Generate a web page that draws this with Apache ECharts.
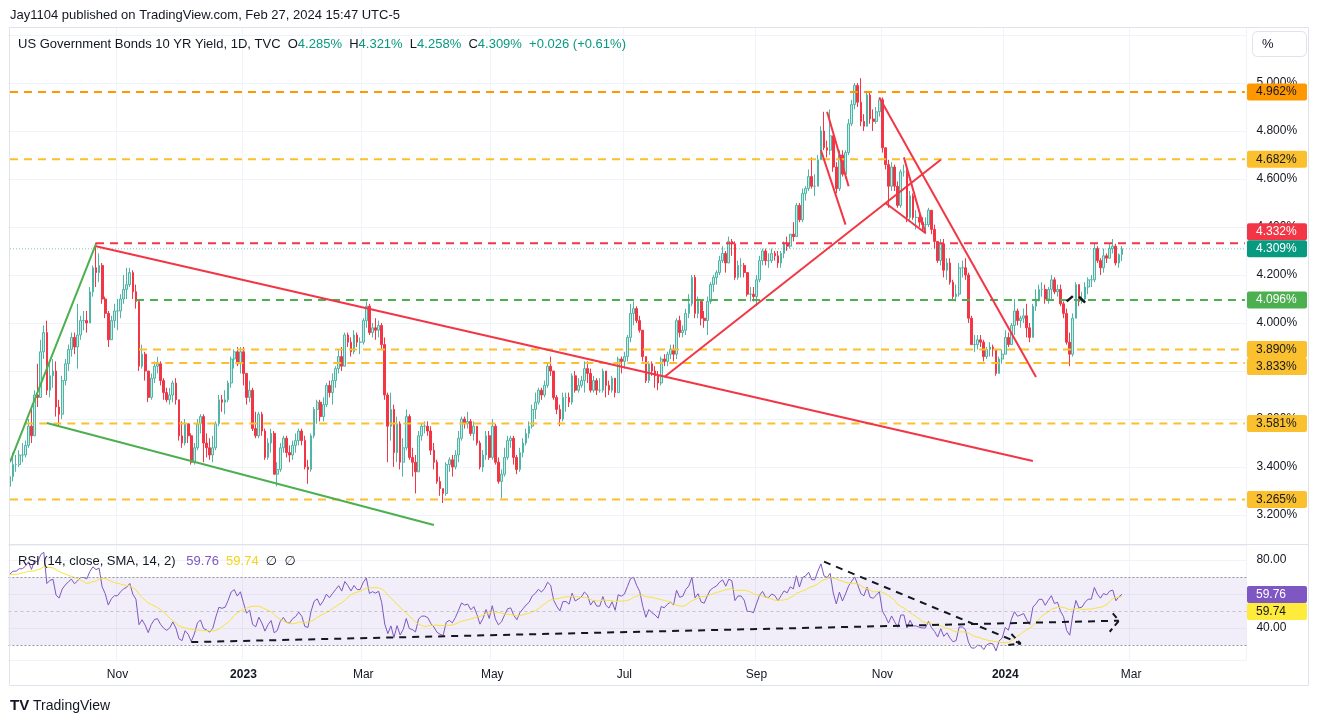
<!DOCTYPE html>
<html>
<head>
<meta charset="utf-8">
<title>US Government Bonds 10 YR Yield</title>
<script src="https://cdn.jsdelivr.net/npm/echarts/dist/echarts.min.js"></script>
<style>
html,body{margin:0;padding:0;background:#ffffff;}
#chart{width:1320px;height:723px;}
</style>
</head>
<body>
<div id="chart"></div>
<script>
// ================= DATA =================
// closes before the first visible candle (used only to warm up the RSI)
const warmupClose = [2.60,2.75,2.73,2.68,2.83,2.76,2.79,2.78,2.89,2.85,2.79,2.82,2.90,2.88,2.98,3.03,3.05,3.11,3.03,3.04,3.11,3.11,3.19,3.26,3.19,3.35,3.27,3.31,3.32];
const firstOpen = 3.32;

// daily closes, 2022-09-12 .. 2024-02-27 (one row per month)
const closeVals = [
3.36,3.41,3.41,3.45,3.45,3.49,3.57,3.53,3.70,3.69,3.88,3.96,3.72,3.78,3.80,
3.65,3.62,3.76,3.83,3.89,3.94,3.90,3.95,4.01,4.01,4.00,4.13,4.23,4.21,4.24,4.10,4.04,3.93,4.01,4.05,
4.05,4.10,4.14,4.16,4.21,4.13,4.09,3.82,3.87,3.80,3.69,3.77,3.82,3.83,3.76,3.71,3.68,3.70,3.75,3.68,
3.53,3.50,3.58,3.53,3.42,3.48,3.58,3.61,3.50,3.48,3.45,3.48,3.58,3.68,3.67,3.68,3.75,3.85,3.88,3.83,3.88,
3.79,3.69,3.72,3.56,3.53,3.62,3.55,3.44,3.50,3.54,3.37,3.39,3.48,3.52,3.46,3.45,3.49,3.51,3.55,3.51,
3.40,3.39,3.53,3.64,3.67,3.61,3.66,3.74,3.71,3.76,3.81,3.86,3.82,3.95,3.92,3.88,3.95,3.92,3.92,
4.01,4.07,3.96,3.98,3.97,3.99,3.91,3.70,3.57,3.64,3.46,3.58,3.42,3.48,3.61,3.44,3.42,3.38,3.53,3.57,3.57,3.55,3.47,
3.42,3.34,3.31,3.29,3.41,3.43,3.40,3.45,3.52,3.60,3.58,3.59,3.54,3.57,3.50,3.40,3.45,3.53,3.44,
3.57,3.42,3.34,3.37,3.44,3.51,3.52,3.44,3.39,3.46,3.50,3.54,3.57,3.64,3.67,3.72,3.70,3.74,3.82,3.80,3.69,3.64,
3.60,3.69,3.69,3.67,3.78,3.72,3.74,3.76,3.81,3.79,3.72,3.76,3.72,3.72,3.80,3.74,3.72,3.77,3.71,3.85,3.84,
3.86,3.94,4.04,4.06,4.01,3.97,3.86,3.76,3.83,3.80,3.78,3.75,3.85,3.84,3.87,3.89,3.87,4.01,3.96,3.97,
4.04,4.08,4.19,4.04,4.09,4.02,4.01,4.09,4.16,4.19,4.21,4.26,4.29,4.25,4.34,4.33,4.19,4.24,4.24,4.21,4.12,4.12,4.11,
4.18,4.26,4.30,4.26,4.26,4.29,4.28,4.25,4.29,4.33,4.32,4.37,4.36,4.49,4.43,4.54,4.56,4.61,4.57,4.57,
4.68,4.80,4.73,4.72,4.78,4.65,4.56,4.70,4.62,4.71,4.83,4.91,4.99,4.92,4.84,4.82,4.95,4.85,4.84,4.88,4.93,
4.73,4.66,4.57,4.65,4.57,4.49,4.63,4.63,4.44,4.53,4.44,4.44,4.42,4.41,4.41,4.47,4.39,4.34,4.26,4.33,
4.22,4.25,4.17,4.11,4.12,4.23,4.23,4.20,4.02,3.91,3.91,3.93,3.92,3.86,3.89,3.90,3.89,3.79,3.85,3.87,
3.94,3.91,3.99,4.05,4.01,4.02,4.03,3.98,3.94,4.07,4.10,4.14,4.14,4.10,4.14,4.18,4.13,4.14,4.08,4.04,3.92,
3.87,4.02,4.16,4.09,4.10,4.15,4.18,4.18,4.31,4.26,4.23,4.28,4.27,4.31,4.32,4.25,4.285,4.309
];
const highVals = [
3.42,3.46,3.45,3.47,3.50,3.51,3.60,3.64,3.72,3.83,3.93,3.99,4.01,3.83,3.85,
3.84,3.68,3.78,3.85,3.91,3.96,3.96,4.08,4.03,4.05,4.05,4.15,4.24,4.335,4.29,4.25,4.11,4.05,4.03,4.08,
4.10,4.12,4.20,4.23,4.23,4.22,4.16,4.10,3.91,3.88,3.80,3.79,3.84,3.86,3.84,3.77,3.73,3.73,3.76,3.77,
3.68,3.59,3.60,3.58,3.54,3.50,3.60,3.62,3.62,3.54,3.52,3.53,3.59,3.70,3.70,3.72,3.76,3.86,3.89,3.90,3.90,
3.90,3.79,3.76,3.73,3.63,3.63,3.63,3.56,3.52,3.56,3.55,3.42,3.50,3.53,3.53,3.49,3.51,3.54,3.56,3.56,
3.53,3.43,3.54,3.65,3.68,3.68,3.69,3.75,3.76,3.79,3.82,3.89,3.90,3.96,3.96,3.94,3.97,3.96,3.94,
4.02,4.09,4.08,4.00,4.02,4.01,4.00,3.94,3.71,3.71,3.66,3.61,3.59,3.52,3.64,3.62,3.48,3.45,3.55,3.58,3.59,3.59,3.57,
3.50,3.43,3.36,3.31,3.42,3.44,3.45,3.47,3.55,3.61,3.61,3.63,3.60,3.59,3.57,3.51,3.47,3.55,3.55,
3.60,3.58,3.44,3.39,3.48,3.53,3.53,3.53,3.45,3.48,3.52,3.56,3.59,3.66,3.71,3.73,3.73,3.76,3.83,3.86,3.79,3.70,
3.66,3.71,3.71,3.71,3.79,3.80,3.77,3.78,3.84,3.84,3.81,3.78,3.77,3.77,3.81,3.80,3.76,3.78,3.77,3.86,3.86,
3.88,3.95,4.08,4.09,4.07,4.03,3.97,3.86,3.84,3.84,3.82,3.80,3.86,3.87,3.88,3.91,3.91,4.02,4.03,3.99,
4.06,4.12,4.20,4.20,4.11,4.10,4.05,4.11,4.17,4.20,4.22,4.28,4.32,4.30,4.36,4.35,4.34,4.26,4.27,4.25,4.21,4.15,4.15,
4.20,4.28,4.31,4.31,4.29,4.31,4.30,4.30,4.30,4.34,4.36,4.37,4.42,4.50,4.50,4.56,4.57,4.64,4.69,4.62,
4.70,4.82,4.88,4.76,4.89,4.71,4.67,4.72,4.72,4.72,4.85,4.93,5.00,5.00,5.02,4.87,4.96,4.96,4.89,4.90,4.94,
4.94,4.73,4.68,4.67,4.66,4.59,4.64,4.66,4.64,4.55,4.54,4.47,4.47,4.44,4.44,4.48,4.47,4.41,4.34,4.35,
4.35,4.27,4.27,4.18,4.16,4.25,4.26,4.27,4.21,4.03,3.95,3.95,3.95,3.93,3.90,3.92,3.91,3.88,3.86,3.89,
3.97,3.96,4.00,4.10,4.06,4.03,4.06,4.08,4.00,4.08,4.14,4.16,4.17,4.16,4.15,4.20,4.19,4.16,4.16,4.09,4.06,
3.96,4.04,4.17,4.16,4.13,4.17,4.19,4.20,4.33,4.32,4.27,4.31,4.29,4.33,4.35,4.33,4.29,4.321
];
const lowVals = [
3.30,3.34,3.38,3.40,3.42,3.44,3.48,3.50,3.53,3.65,3.69,3.85,3.70,3.69,3.73,
3.61,3.57,3.60,3.74,3.80,3.86,3.87,3.81,3.93,3.97,3.96,4.00,4.11,4.15,4.17,4.08,4.02,3.90,3.93,3.98,
3.97,4.02,4.08,4.10,4.15,4.10,4.06,3.80,3.81,3.76,3.67,3.68,3.75,3.79,3.74,3.68,3.67,3.66,3.67,3.66,
3.51,3.48,3.49,3.50,3.41,3.41,3.47,3.54,3.42,3.44,3.43,3.42,3.47,3.57,3.63,3.62,3.67,3.73,3.81,3.82,3.79,
3.74,3.66,3.67,3.55,3.52,3.52,3.53,3.43,3.43,3.46,3.37,3.32,3.38,3.46,3.44,3.42,3.43,3.46,3.49,3.49,
3.39,3.33,3.38,3.52,3.58,3.59,3.59,3.65,3.69,3.66,3.73,3.79,3.80,3.83,3.90,3.86,3.87,3.90,3.87,
3.91,3.98,3.95,3.94,3.93,3.94,3.89,3.68,3.42,3.51,3.40,3.42,3.39,3.36,3.47,3.43,3.36,3.29,3.38,3.51,3.54,3.53,3.45,
3.39,3.33,3.28,3.25,3.28,3.38,3.36,3.39,3.42,3.51,3.56,3.56,3.53,3.51,3.49,3.39,3.38,3.43,3.43,
3.43,3.41,3.33,3.27,3.36,3.43,3.48,3.41,3.37,3.38,3.44,3.49,3.52,3.56,3.60,3.66,3.68,3.69,3.73,3.78,3.68,3.62,
3.57,3.59,3.63,3.65,3.66,3.71,3.71,3.73,3.71,3.75,3.71,3.71,3.70,3.71,3.71,3.69,3.70,3.71,3.69,3.71,3.79,
3.81,3.84,3.92,3.99,4.00,3.96,3.84,3.75,3.75,3.78,3.73,3.72,3.74,3.82,3.82,3.85,3.84,3.85,3.94,3.94,
3.95,4.02,4.07,4.02,4.02,3.99,3.98,3.95,4.08,4.13,4.16,4.20,4.25,4.21,4.25,4.28,4.18,4.18,4.19,4.19,4.11,4.09,4.09,
4.07,4.17,4.24,4.24,4.23,4.25,4.26,4.23,4.23,4.27,4.30,4.31,4.34,4.36,4.42,4.42,4.51,4.55,4.56,4.53,
4.57,4.68,4.72,4.69,4.70,4.63,4.54,4.55,4.61,4.60,4.70,4.82,4.89,4.90,4.82,4.80,4.82,4.83,4.80,4.83,4.86,
4.71,4.64,4.48,4.55,4.55,4.48,4.48,4.61,4.42,4.43,4.43,4.39,4.40,4.38,4.37,4.40,4.37,4.31,4.25,4.24,
4.19,4.18,4.16,4.10,4.09,4.11,4.19,4.18,4.00,3.91,3.88,3.89,3.90,3.84,3.85,3.86,3.86,3.78,3.79,3.83,
3.87,3.90,3.91,3.95,3.99,3.98,4.00,3.94,3.92,3.94,4.05,4.09,4.11,4.08,4.08,4.10,4.12,4.11,4.07,4.02,3.91,
3.82,3.86,4.03,4.07,4.08,4.09,4.12,4.15,4.17,4.25,4.20,4.21,4.25,4.27,4.29,4.24,4.23,4.258
];

// trading calendar
const startDate = '2022-09-12';
const holidays = ['2022-10-10','2022-11-11','2022-11-24','2022-12-26','2023-01-02','2023-01-16','2023-02-20','2023-04-07','2023-05-29','2023-06-19','2023-07-04','2023-09-04','2023-10-09','2023-11-10','2023-11-23','2023-12-25','2024-01-01','2024-01-15','2024-02-19','2024-03-29'];
const futureBars = 40;
const tickMonths = [0, 2, 4, 6, 8, 10];
const monthNames = ['Jan','Feb','Mar','Apr','May','Jun','Jul','Aug','Sep','Oct','Nov','Dec'];

// horizontal levels
const levelValues = [4.962, 4.682, 4.332, 4.096, 3.890, 3.833, 3.581, 3.265];
const levelStartDates = ['2022-09-12','2022-09-12','2022-10-21','2022-11-09','2022-11-10','2022-11-17','2022-09-19','2022-09-12'];
const currentPrice = 4.309;
const hiddenPriceTicks = [5.2]; // tick under the "%" scale button

// drawn trend lines: [fromDate, fromValue, toDate, toValue]
const trendLines = [
  ['2022-09-12', 3.42, '2022-10-21', 4.33],
  ['2022-09-28', 3.583, '2023-04-03', 3.158],
  ['2022-10-21', 4.32, '2024-01-16', 3.425],
  ['2023-07-21', 3.775, '2023-11-30', 4.68],
  ['2023-10-31', 4.94, '2024-01-17', 3.775],
  ['2023-11-02', 4.50, '2023-11-22', 4.375],
  ['2023-11-13', 4.69, '2023-11-22', 4.375],
  ['2023-10-05', 4.88, '2023-10-17', 4.57],
  ['2023-10-03', 4.72, '2023-10-16', 4.41]
];
const blackMarks = [
  ['2024-01-31', 4.09, '2024-02-02', 4.112],
  ['2024-02-06', 4.11, '2024-02-08', 4.085]
];
// RSI pane drawings
const rsiTrendLines = [
  ['2022-12-07', 31.7, '2024-02-26', 44.3],
  ['2023-10-04', 79.0, '2024-01-09', 30.8]
];
const rsiArrowHeads = [
  [['2024-01-03', 30.0], ['2024-01-09', 30.8], ['2024-01-04', 36.5]],
  [['2024-02-22', 48.6], ['2024-02-26', 44.3], ['2024-02-21', 37.8]]
];
const rsiLength = 14, rsiSmaLength = 14;
const rsiLegendValues = ['59.76', '59.74'];
const headerTitle = 'US Government Bonds 10 YR Yield, 1D, TVC';
const headerOHLC = ['4.285%', '4.321%', '4.258%', '4.309%'];
const headerChange = '+0.026 (+0.61%)';
const publishLine = 'Jay1104 published on TradingView.com, Feb 27, 2024 15:47 UTC-5';

// ================= STYLE / LAYOUT =================
const FONT = "'Liberation Sans', 'DejaVu Sans', Arial, sans-serif";
const TXT = '#131722';
const UP_FILL = '#cdebe6', UP_LINE = '#4fb5a6', DOWN = '#F23645';
const levelColors = ['#FF9800', '#FBC02D', '#F23645', '#4CAF50', '#FBC02D', '#FBC02D', '#FBC02D', '#FBC02D'];
const levelTextColors = [TXT, TXT, '#ffffff', '#ffffff', TXT, TXT, TXT, TXT];
const trendColors = ['#4CAF50', '#4CAF50', '#F23645', '#F23645', '#F23645', '#F23645', '#F23645', '#F23645', '#F23645'];
const GRID_LEFT = 8.46, GRID_RIGHT = 73.6;
const MAIN_TOP = 27, MAIN_BOTTOM = 544, RSI_TOP = 545, RSI_BOTTOM = 660;
const MAIN_MIN = 3.0792, MAIN_MAX = 5.2333;
const RSI_MIN = 21.18, RSI_MAX = 88.82;

// ================= BUILD =================
function buildDates() {
  const out = [];
  const total = closeVals.length + futureBars;
  const d = new Date(startDate + 'T00:00:00Z');
  while (out.length < total) {
    const wd = d.getUTCDay();
    const s = d.toISOString().slice(0, 10);
    if (wd !== 0 && wd !== 6 && holidays.indexOf(s) < 0) out.push(s);
    d.setUTCDate(d.getUTCDate() + 1);
  }
  return out;
}
const dates = buildDates();
const lastDate = dates[dates.length - 1];

const candles = closeVals.map((c, i) => {
  const o = i === 0 ? firstOpen : closeVals[i - 1];
  return [o, c, Math.min(lowVals[i], o, c), Math.max(highVals[i], o, c)];
});

function wilderRSI(src, n) {
  const out = new Array(src.length).fill(null);
  let ag = 0, al = 0;
  for (let i = 1; i < src.length; i++) {
    const ch = src[i] - src[i - 1];
    const g = Math.max(ch, 0), l = Math.max(-ch, 0);
    if (i <= n) {
      ag += g; al += l;
      if (i === n) { ag /= n; al /= n; out[i] = al === 0 ? 100 : 100 - 100 / (1 + ag / al); }
    } else {
      ag = (ag * (n - 1) + g) / n; al = (al * (n - 1) + l) / n;
      out[i] = al === 0 ? 100 : 100 - 100 / (1 + ag / al);
    }
  }
  return out;
}
function sma(src, n) {
  return src.map((v, i) => {
    if (i < n - 1) return null;
    let s = 0;
    for (let k = i - n + 1; k <= i; k++) { if (src[k] == null) return null; s += src[k]; }
    return s / n;
  });
}
const allClose = warmupClose.concat(closeVals);
const rsiAll = wilderRSI(allClose, rsiLength);
const rsiSmaAll = sma(rsiAll, rsiSmaLength);
const rsiVis = rsiAll.slice(warmupClose.length);
const rsiSmaVis = rsiSmaAll.slice(warmupClose.length);

const isTick = dates.map((d, i) => {
  if (i === 0) return false;
  const m = +d.slice(5, 7) - 1, pm = +dates[i - 1].slice(5, 7) - 1;
  return m !== pm && tickMonths.indexOf(m) >= 0;
});
const tickFn = (idx) => isTick[idx];

const series = [];
series.push({
  type: 'candlestick', name: 'US10Y', xAxisIndex: 0, yAxisIndex: 0,
  data: candles, barWidth: 2.2, z: 2, silent: true,
  itemStyle: { color: UP_FILL, color0: DOWN, borderColor: UP_LINE, borderColor0: DOWN, borderWidth: 1 }
});
function seg(data, color, width, type, xi, z) {
  return { type: 'line', xAxisIndex: xi, yAxisIndex: xi, data: data, symbol: 'none', silent: true, z: z || 4,
    lineStyle: { color: color, width: width, type: type || 'solid' }, emphasis: { disabled: true } };
}
series.push(seg([[dates[0], currentPrice], [lastDate, currentPrice]], 'rgba(8,153,129,0.55)', 1, [1, 2], 0, 3));
levelValues.forEach((v, i) => series.push(seg([[levelStartDates[i], v], [lastDate, v]], levelColors[i], 2, [8, 6], 0, 4)));
trendLines.forEach((t, i) => series.push(seg([[t[0], t[1]], [t[2], t[3]]], trendColors[i], 2, 'solid', 0, 5)));
blackMarks.forEach(t => series.push(seg([[t[0], t[1]], [t[2], t[3]]], TXT, 2.5, 'solid', 0, 6)));

series.push({
  type: 'line', name: 'RSI', xAxisIndex: 1, yAxisIndex: 1, data: rsiVis, symbol: 'none', silent: true, z: 3,
  lineStyle: { color: '#7E57C2', width: 1 },
  markArea: { silent: true, itemStyle: { color: 'rgba(126,87,194,0.10)' }, data: [[{ yAxis: 70 }, { yAxis: 30 }]] },
  markLine: { silent: true, symbol: 'none', label: { show: false },
    data: [
      { yAxis: 70, lineStyle: { color: '#9598A1', type: [2, 2], width: 1 } },
      { yAxis: 50, lineStyle: { color: 'rgba(149,152,161,0.5)', type: [3, 3], width: 1 } },
      { yAxis: 30, lineStyle: { color: '#9598A1', type: [2, 2], width: 1 } }
    ] }
});
series.push({
  type: 'line', name: 'RSI SMA', xAxisIndex: 1, yAxisIndex: 1, data: rsiSmaVis, symbol: 'none', silent: true, z: 3,
  lineStyle: { color: '#F7E33A', width: 1 }
});
rsiTrendLines.forEach(t => series.push(seg([[t[0], t[1]], [t[2], t[3]]], TXT, 2, [7, 6], 1, 6)));
rsiArrowHeads.forEach(a => series.push(seg(a, TXT, 2, [6, 4], 1, 6)));

const xAxisBase = {
  type: 'category', data: dates, boundaryGap: true,
  axisLine: { show: false }, axisTick: { show: false },
  splitLine: { show: true, interval: tickFn, lineStyle: { color: '#f0f3fa', width: 1 } }
};
const option = {
  animation: false,
  backgroundColor: '#ffffff',
  textStyle: { fontFamily: FONT },
  grid: [
    { left: GRID_LEFT, right: GRID_RIGHT, top: MAIN_TOP, height: MAIN_BOTTOM - MAIN_TOP, outerBoundsMode: 'none' },
    { left: GRID_LEFT, right: GRID_RIGHT, top: RSI_TOP, height: RSI_BOTTOM - RSI_TOP, outerBoundsMode: 'none' }
  ],
  xAxis: [
    Object.assign({}, xAxisBase, { gridIndex: 0, axisLabel: { show: false } }),
    Object.assign({}, xAxisBase, { gridIndex: 1,
      axisLabel: { show: true, interval: tickFn, color: TXT, fontSize: 12, fontFamily: FONT, margin: 9,
        formatter: (val) => { const m = +val.slice(5, 7) - 1; return m === 0 ? '{b|' + val.slice(0, 4) + '}' : monthNames[m]; },
        rich: { b: { fontWeight: 'bold', fontSize: 12, color: TXT, fontFamily: FONT } } } })
  ],
  yAxis: [
    { type: 'value', gridIndex: 0, position: 'right', min: MAIN_MIN, max: MAIN_MAX, minInterval: 0.2, maxInterval: 0.2,
      axisLine: { show: false }, axisTick: { show: false },
      axisLabel: { color: TXT, fontSize: 12, fontFamily: FONT, margin: 10, showMinLabel: false, showMaxLabel: false,
        formatter: v => hiddenPriceTicks.some(h => Math.abs(h - v) < 1e-6) ? '' : v.toFixed(3) + '%' },
      splitLine: { lineStyle: { color: '#f0f3fa' } } },
    { type: 'value', gridIndex: 1, position: 'right', min: RSI_MIN, max: RSI_MAX, minInterval: 20, maxInterval: 20,
      axisLine: { show: false }, axisTick: { show: false },
      axisLabel: { color: TXT, fontSize: 12, fontFamily: FONT, margin: 10, showMinLabel: false, showMaxLabel: false,
        formatter: v => v.toFixed(2) },
      splitLine: { lineStyle: { color: '#f0f3fa' } } }
  ],
  series: series
};

const chart = echarts.init(document.getElementById('chart'), null, { renderer: 'canvas' });
chart.setOption(option);

// ================= OVERLAY GRAPHICS =================
function resolveLabels(items, h) {
  items.sort((a, b) => a.y - b.y);
  for (let i = 0; i < items.length - 1; i++) {
    const a = items[i], b = items[i + 1];
    if (b.y - a.y < h) { if (b.fixed) a.y = b.y - h; else b.y = a.y + h; }
  }
  return items;
}
const BOX_X = 1247, BOX_W = 60, BOX_H = 17;
function box(item) {
  return {
    type: 'group', z: 100, silent: true,
    children: [
      { type: 'rect', shape: { x: BOX_X, y: item.y - BOX_H / 2, width: BOX_W, height: BOX_H, r: 2 }, style: { fill: item.bg }, z: 100 },
      { type: 'text', x: BOX_X + 9, y: item.y, z: 101, style: { text: item.text, fill: item.fg, font: '12px ' + FONT, verticalAlign: 'middle', align: 'left' } }
    ]
  };
}
const priceItems = levelValues.map((v, i) => ({ y: chart.convertToPixel({ yAxisIndex: 0 }, v), text: v.toFixed(3) + '%', bg: levelColors[i], fg: levelTextColors[i] }));
priceItems.push({ y: chart.convertToPixel({ yAxisIndex: 0 }, currentPrice), text: currentPrice.toFixed(3) + '%', bg: '#089981', fg: '#ffffff', fixed: true });
resolveLabels(priceItems, BOX_H);
const rsiItems = [
  { y: chart.convertToPixel({ yAxisIndex: 1 }, +rsiLegendValues[0]), text: rsiLegendValues[0], bg: '#7E57C2', fg: '#ffffff', fixed: true },
  { y: chart.convertToPixel({ yAxisIndex: 1 }, +rsiLegendValues[1]), text: rsiLegendValues[1], bg: '#FFEB3B', fg: TXT }
];
resolveLabels(rsiItems, BOX_H);

const graphics = [
  { type: 'rect', silent: true, z: 50, shape: { x: 9.5, y: 27.5, width: 1299, height: 658 }, style: { fill: 'none', stroke: '#e0e3eb', lineWidth: 1 } },
  { type: 'line', silent: true, z: 50, shape: { x1: 9.5, y1: 544.5, x2: 1308.5, y2: 544.5 }, style: { stroke: '#e0e3eb', lineWidth: 1 } },
  { type: 'text', x: 10, y: 15, z: 60, silent: true, style: { text: publishLine, fill: TXT, font: '13px ' + FONT, verticalAlign: 'middle' } },
  { type: 'text', x: 18, y: 44, z: 60, silent: true, style: {
      text: '{t|' + headerTitle + '}  {t|O}{v|' + headerOHLC[0] + '}  {t|H}{v|' + headerOHLC[1] + '}  {t|L}{v|' + headerOHLC[2] + '}  {t|C}{v|' + headerOHLC[3] + '}  {v|' + headerChange + '}',
      font: '13px ' + FONT, fill: TXT, verticalAlign: 'middle',
      rich: { t: { fill: TXT, font: '13px ' + FONT }, v: { fill: '#089981', font: '13px ' + FONT } } } },
  { type: 'rect', silent: true, z: 90, shape: { x: 1252.5, y: 31.5, width: 54, height: 25, r: 5 }, style: { fill: '#ffffff', stroke: '#e0e3eb', lineWidth: 1 } },
  { type: 'text', x: 1262, y: 44, z: 91, silent: true, style: { text: '%', fill: TXT, font: '13px ' + FONT, verticalAlign: 'middle' } },
  { type: 'text', x: 18, y: 561, z: 60, silent: true, style: {
      text: '{t|RSI (14, close, SMA, 14, 2)}   {p|' + rsiLegendValues[0] + '}  {y|' + rsiLegendValues[1] + '}  {t|\u2205  \u2205}',
      font: '13px ' + FONT, fill: TXT, verticalAlign: 'middle',
      rich: { t: { fill: TXT, font: '13px ' + FONT }, p: { fill: '#7E57C2', font: '13px ' + FONT }, y: { fill: '#F2D51B', font: '13px ' + FONT } } } },
  { type: 'text', x: 10, y: 706, z: 60, silent: true, style: { text: 'TV', fill: TXT, font: 'bold 15px ' + FONT, verticalAlign: 'middle' } },
  { type: 'text', x: 33, y: 706, z: 60, silent: true, style: { text: 'TradingView', fill: TXT, font: '14px ' + FONT, verticalAlign: 'middle' } }
];
priceItems.forEach(it => graphics.push(box(it)));
rsiItems.forEach(it => graphics.push(box(it)));
chart.setOption({ graphic: graphics });
</script>
</body>
</html>
